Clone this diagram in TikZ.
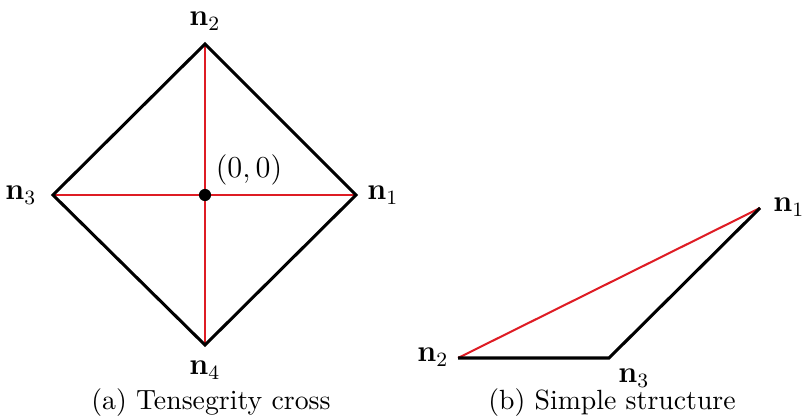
\documentclass[tikz,border=0pt]{standalone}
\usepackage{amsmath}
\definecolor{cable}{RGB}{222,28,36}
\tikzset{
  bar/.style={line width=1.2pt, black, line join=miter},
  cablel/.style={line width=0.8pt, cable},
  lbl/.style={inner sep=0pt, font=\large},
  captext/.style={inner sep=0pt, font=\fontsize{10.95}{13}\selectfont}
}
\begin{document}
\begin{tikzpicture}[x=0.394pt, y=-0.394pt]
\useasboundingbox (0,0) rectangle (803,420);
% (a)
\coordinate (A1) at (356,195);
\coordinate (A2) at (205,44);
\coordinate (A3) at (53,195);
\coordinate (A4) at (205,345);
\coordinate (O) at (205,195);
\draw[cablel] (A1) -- (A3);
\draw[cablel] (A2) -- (A4);
\draw[bar] (A1) -- (A2) -- (A3) -- (A4) -- cycle;
\fill (O) circle (2.4pt);
\node[lbl] (l1) at (383,195) {$\mathbf{n}_1$};
\node[lbl] (l2) at (205,21) {$\mathbf{n}_2$};
\node[lbl] (l3) at (21,195) {$\mathbf{n}_3$};
\node[lbl] (l4) at (205,370) {$\mathbf{n}_4$};
\node[lbl] (lo) at (249,170) {$(0,0)$};
\node[captext] (capa) at (211,403) {(a) Tensegrity cross};
% (b)
\coordinate (B1) at (760,208);
\coordinate (B2) at (458,358);
\coordinate (B3) at (609,358);
\draw[cablel] (B2) -- (B1);
\draw[bar] (B2) -- (B3) -- (B1);
\node[lbl] (m1) at (789,207) {$\mathbf{n}_1$};
\node[lbl] (m2) at (433,357) {$\mathbf{n}_2$};
\node[lbl] (m3) at (634,378) {$\mathbf{n}_3$};
\node[captext] (capb) at (612,403) {(b) Simple structure};
\end{tikzpicture}
\end{document}
